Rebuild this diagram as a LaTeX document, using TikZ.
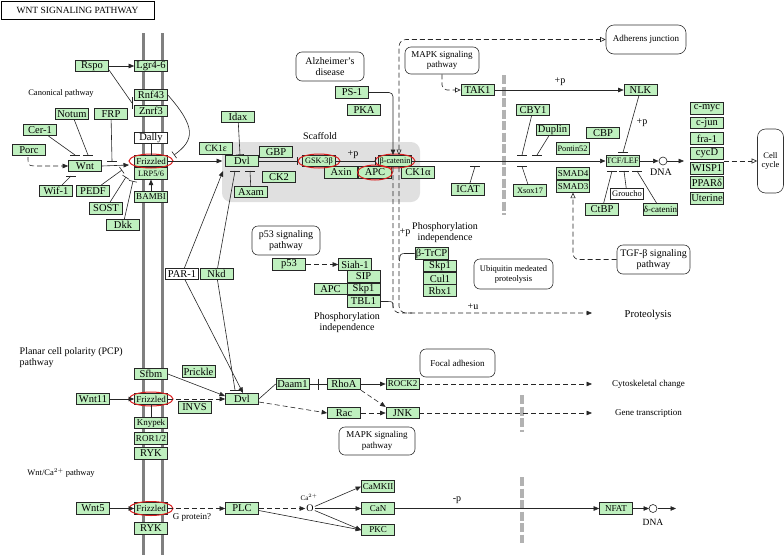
\documentclass[tikz,border=0pt]{standalone}
\usepackage{fontspec}
\setmainfont{Liberation Serif}
\usetikzlibrary{arrows.meta,shapes.geometric,calc}
\definecolor{kg}{RGB}{191,240,191}
\definecolor{kred}{RGB}{220,30,30}
\newcommand\myfs[1]{\fontsize{#1}{#1}\selectfont}
\newcommand\tbh[2]{\draw[ln] (#1-5,#2) -- (#1+5,#2);}
\begin{document}
\begin{tikzpicture}[x=1pt,y=-1pt,
  ln/.style={line width=0.6pt, draw=black!85},
  g/.style={draw=black!85, fill=kg, line width=0.7pt, minimum width=33pt, minimum height=11.5pt, inner sep=0.5pt, font=\myfs{10.5}},
  gs/.style={g, font=\myfs{9}},
  gx/.style={g, font=\myfs{8.3}},
  w/.style={g, fill=white},
  pw/.style={draw=black!80, line width=0.6pt, rounded corners=6pt, align=center, inner sep=1pt},
  lbl/.style={inner sep=0.5pt, font=\myfs{8.5}},
  redc/.style={draw=kred, line width=1pt},
  arr/.style={ln, -{Triangle[length=5.5pt,width=4.5pt]}},
  inh/.style={ln, -{Bar[width=8pt]}},
  oarr/.style={ln, -{Triangle[open,length=5.5pt,width=5pt]}},
  dsh/.style={dash pattern=on 5pt off 3pt},
  gd/.style={line width=4pt, draw=black!30, dash pattern=on 9pt off 2.5pt},
  mem/.style={line width=3pt, draw=black!50}]
\useasboundingbox (0,0) rectangle (784,555);
\fill[white] (0,0) rectangle (784,555);

% title
\node[draw=black, line width=0.8pt, minimum width=153pt, minimum height=18pt, inner sep=0pt, font=\myfs{9.5}] (title) at (77.5,10) {WNT SIGNALING PATHWAY};

% scaffold and membranes
\fill[black!12, rounded corners=9pt] (222,142) rectangle (420,202);
\node[font=\myfs{10}, inner sep=0.5pt] (scaf) at (320,136) {Scaffold};
\draw[mem] (143,33) -- (143,555);
\draw[mem] (162,33) -- (162,555);
\draw[gd] (504,75) -- (504,215);
\draw[gd] (522,395) -- (522,432);
\draw[gd] (522,477) -- (522,543);

% labels
\node[lbl] (canon) at (61,93) {Canonical pathway};
\node[lbl, font=\myfs{10}, anchor=west] (pcp1) at (19,352) {Planar cell polarity (PCP)};
\node[lbl, font=\myfs{10}, anchor=west] (pcp2) at (19,363.5) {pathway};
\node[lbl] (wca) at (61,473) {Wnt/Ca$^{2+}$ pathway};

% canonical nodes
\node[g] (rspo) at (92,66) {Rspo};
\node[g] (lgr) at (151,66) {Lgr4-6};
\node[g] (rnf) at (151,95) {Rnf43};
\node[g] (znrf) at (151,111) {Znrf3};
\node[w] (dally) at (151,138) {Dally};
\node[gs] (fz1) at (151,161) {Frizzled};
\node[gx] (lrp) at (151,173.5) {LRP5/6};
\node[gs] (bambi) at (151,197) {BAMBI};
\node[g] (notum) at (72,114) {Notum};
\node[g] (frp) at (111,114) {FRP};
\node[g] (cer) at (40,130) {Cer-1};
\node[g] (porc) at (29,150) {Porc};
\node[g] (wnt) at (85,166) {Wnt};
\node[g] (wif) at (56,191) {Wif-1};
\node[g] (pedf) at (93,191) {PEDF};
\node[g] (sost) at (106,208.5) {SOST};
\node[g] (dkk) at (123,225) {Dkk};

\node[g] (idax) at (238,117) {Idax};
\node[g, font=\myfs{9.5}] (ck1e) at (216,148.5) {CK1ε};
\node[g] (dvl) at (242,161) {Dvl};
\node[g] (gbp) at (276,152) {GBP};
\node[g] (ck2) at (279,177) {CK2};
\node[g] (axam) at (251,192) {Axam};
\node[gx] (gsk) at (319,161) {GSK-3β};
\node[g] (axin) at (341,172.5) {Axin};
\node[g] (apc) at (375,172.5) {APC};
\node[gx] (bcat) at (395,161) {β-catenin};
\node[g] (ck1a) at (418,172.5) {CK1α};

\node[g] (ps1) at (352,92.5) {PS-1};
\node[g] (pka) at (364,110) {PKA};
\node[pw, minimum width=68pt, minimum height=29pt, font=\fontsize{10}{11}\selectfont] (alz) at (330,66.5) {Alzheimer's\\disease};
\node[pw, minimum width=74pt, minimum height=27pt, font=\fontsize{9}{10.5}\selectfont] (mapk1) at (442,60.5) {MAPK signaling\\pathway};
\node[g] (tak1) at (477.5,90) {TAK1};
\node[g] (nlk) at (640.5,90) {NLK};
\node[pw, minimum width=80pt, minimum height=29pt, rounded corners=8pt, font=\myfs{9}] (adh) at (646,39.5) {Adherens junction};

\node[g] (cby1) at (533,110) {CBY1};
\node[g] (duplin) at (552.5,130) {Duplin};
\node[g] (cbp) at (603,133) {CBP};
\node[gx] (pontin) at (572.5,148.5) {Pontin52};
\node[gx] (tcf) at (622.5,161) {TCF/LEF};
\node[g] (icat) at (468,189.5) {ICAT};
\node[gx] (xsox) at (530,190.5) {Xsox17};
\node[gs] (smad4) at (573,173.5) {SMAD4};
\node[gs] (smad3) at (573,186.5) {SMAD3};
\node[w, font=\myfs{8.5}] (groucho) at (627,194) {Groucho};
\node[g] (ctbp) at (602,209.5) {CtBP};
\node[gs] (dcat) at (660.5,209.5) {δ-catenin};

\node[g] (myc) at (707,108.5) {c-myc};
\node[g] (jun) at (707,123) {c-jun};
\node[g] (fra) at (707,138.5) {fra-1};
\node[g] (cycd) at (707,153.5) {cycD};
\node[g] (wisp) at (707,168.5) {WISP1};
\node[g] (ppar) at (707,182.5) {PPARδ};
\node[g] (uter) at (707,198.5) {Uterine};
\node[pw, minimum width=26pt, minimum height=64pt, rounded corners=8pt, font=\fontsize{8.5}{9.5}\selectfont] (cc) at (770.5,161) {Cell\\cycle};
\node[lbl, font=\myfs{10}] (dna1) at (661,172.5) {DNA};

\node[pw, minimum width=73pt, minimum height=29pt, font=\fontsize{10}{11}\selectfont] (tgf) at (653.5,259.5) {TGF-β signaling\\pathway};
\node[pw, minimum width=79pt, minimum height=30pt, font=\fontsize{8.5}{10}\selectfont] (ubi) at (513.5,274) {Ubiquitin medeated\\proteolysis};
\node[lbl, font=\myfs{10.5}] (prot) at (648,315) {Proteolysis};

% p53 / proteolysis
\node[pw, minimum width=68pt, minimum height=29pt, font=\fontsize{10}{11}\selectfont] (p53pw) at (286,240.5) {p53 signaling\\pathway};
\node[g] (p53) at (289,264.5) {p53};
\node[g] (siah) at (355,264.5) {Siah-1};
\node[g] (sip) at (363.5,276.5) {SIP};
\node[g] (skp1a) at (363.5,289) {Skp1};
\node[g] (tbl1) at (363.5,301.5) {TBL1};
\node[g] (apc2) at (330.5,289) {APC};
\node[lbl, font=\fontsize{10}{11.5}\selectfont, align=center] (phos1) at (347,322.5) {Phosphorylation\\independence};
\node[g] (btrcp) at (431.5,253.5) {β-TrCP};
\node[g] (skp1b) at (440,266) {Skp1};
\node[g] (cul1) at (440,278.5) {Cul1};
\node[g] (rbx1) at (440,290.5) {Rbx1};
\node[lbl, font=\fontsize{10}{11.5}\selectfont, align=center] (phos2) at (445,232.5) {Phosphorylation\\independence};
\node[lbl, font=\myfs{10}] (pp3) at (405,233) {+p};
\node[lbl, font=\myfs{10}] (pu) at (473,307) {+u};

\node[w] (par1) at (182,274) {PAR-1};
\node[g] (nkd) at (216.5,274) {Nkd};

% PCP nodes
\node[g] (sfbm) at (151,374) {Sfbm};
\node[g] (prickle) at (198.5,371.5) {Prickle};
\node[g] (wnt11) at (93,399) {Wnt11};
\node[gs] (fz2) at (151,399) {Frizzled};
\node[g] (invs) at (194.5,407.5) {INVS};
\node[g] (dvl2) at (242,399) {Dvl};
\node[gs] (knypek) at (151,423) {Knypek};
\node[gs] (ror) at (151,438.5) {ROR1/2};
\node[g] (ryk1) at (151,453.5) {RYK};
\node[g] (daam) at (292.5,384) {Daam1};
\node[g] (rhoa) at (344,384) {RhoA};
\node[gs] (rock2) at (402.5,384) {ROCK2};
\node[g] (rac) at (344,413) {Rac};
\node[g] (jnk) at (402.5,413) {JNK};
\node[pw, minimum width=76pt, minimum height=28pt, font=\fontsize{9}{10.5}\selectfont] (mapk2) at (377,441) {MAPK signaling\\pathway};
\node[pw, minimum width=75pt, minimum height=28pt, font=\myfs{9}] (focal) at (457.5,363) {Focal adhesion};
\node[lbl, font=\myfs{9}] (cyto) at (648.5,384) {Cytoskeletal change};
\node[lbl, font=\myfs{9}] (gtr) at (648.5,413) {Gene transcription};

% Ca nodes
\node[g] (wnt5) at (93,508.5) {Wnt5};
\node[gs] (fz3) at (151,508.5) {Frizzled};
\node[g] (ryk2) at (151,528.5) {RYK};
\node[lbl, font=\myfs{9}] (gprot) at (192,517.5) {G protein?};
\node[g] (plc) at (242,508.5) {PLC};
\node[lbl, font=\myfs{7}] (ca2) at (309,497) {Ca$^{2+}$};
\node[inner sep=1pt, font=\myfs{10}] (ca) at (310,508.5) {O};
\node[gs] (camk) at (378,486.5) {CaMKII};
\node[gs] (can) at (378,508.5) {CaN};
\node[gs] (pkc) at (378,530) {PKC};
\node[g, font=\myfs{9}] (nfat) at (616,508.5) {NFAT};
\node[lbl, font=\myfs{10}] (mp) at (457,500) {-p};
\node[lbl, font=\myfs{9.5}] (dna2) at (653,522) {DNA};

% red ellipses
\draw[redc] (fz1) ellipse [x radius=22pt, y radius=7pt];
\draw[redc] (gsk) ellipse [x radius=21pt, y radius=7pt];
\draw[redc] (bcat) ellipse [x radius=20pt, y radius=7pt];
\draw[redc] (apc) ellipse [x radius=17.5pt, y radius=7.5pt];
\draw[redc] (fz2) ellipse [x radius=22pt, y radius=7pt];
\draw[redc] (fz3) ellipse [x radius=22pt, y radius=7pt];

% ---- canonical connectors
\draw[arr] (rspo) -- (lgr);
\draw[ln] (109,70) -- (132,103);
\draw[ln] (132,97) -- (132,109);
\draw[inh] (rnf.east) .. controls (196,127) and (195,140) .. (174,155);
\draw[ln] (dally) -- (fz1);
\draw[arr] (fz1.east) -- ([xshift=-3pt]dvl.west);
\draw[arr,dsh] (28,157) .. controls (28,166) .. (40,166) -- (wnt.west);
\draw[ln] (cer) -- (75,155); \tbh{75}{155}
\draw[ln] (notum) -- (88,155); \tbh{88}{155}
\draw[ln] (frp) -- (112,161); \tbh{112}{161}
\draw[arr] (wnt.east) -- (129,165);
\draw[ln] (wif) -- (71,176); \tbh{71}{176}
\draw[inh] (pedf) -- (122,170);
\draw[inh] (sost) -- (126,177);
\draw[inh] (dkk) -- (133,181);
\draw[arr] (bambi) -- (lrp);
\draw[inh] (idax) -- (240,155);
\draw[inh] (dvl.east) -- (298,161);
\draw[inh] (gsk.east) -- (376,161);
\node[lbl, font=\myfs{10}] (pp1) at (353,155) {+p};
\draw[arr, rounded corners=4pt] (ps1.east) -| (393,155);
\draw[ln, dsh, rounded corners=7pt, {Triangle[open,length=5.5pt,width=5pt]}-{Triangle[open,length=5.5pt,width=5pt]}] (399,155) -- (399,39.5) -- (adh.west);
\draw[arr, dsh, rounded corners=7pt] (393,167) -- (393,313) -- (592,313);
\draw[ln, dsh, rounded corners=7pt] (399,167) -- (399,313) -- (412,313);
\draw[ln] (btrcp.west) -- (407,253.5) .. controls (400,253.5) .. (399.5,261);
\draw[ln] (tbl1.east) -- (387,301.5) .. controls (393,301.5) .. (393,308);
\draw[arr,dsh] (p53) -- (siah);
\draw[arr] (bcat.east) -- (tcf.west);
\draw[oarr, dsh, rounded corners=5pt] (mapk1.south) |- (tak1.west);
\draw[arr] (tak1) -- (nlk);
\node[lbl, font=\myfs{10}] (pp2) at (560,82) {+p};
\draw[ln] (cby1) -- (522,155); \tbh{522}{155}
\draw[ln] (duplin) -- (537,155); \tbh{537}{155}
\draw[ln] (icat) -- (475,166.5); \tbh{475}{166.5}
\draw[ln] (xsox) -- (522,166.5); \tbh{522}{166.5}
\draw[ln] (nlk) -- (623,152.5); \tbh{623}{152.5}
\node[lbl, font=\myfs{10}] (pp4) at (642,123) {+p};
\draw[arr] (tcf.east) -- (658.5,161);
\draw[ln] (663,161) circle [radius=4pt];
\draw[arr] (667,161) -- (684,161);
\draw[ln] (ctbp) -- (612,171); \tbh{612}{171}
\draw[ln] (groucho) -- (624,171); \tbh{624}{171}
\draw[ln] (dcat) -- (637,171); \tbh{637}{171}
\draw[oarr, dsh, rounded corners=6pt] (tgf.west) -| (smad3.south);
\draw[oarr, dsh] (723.5,161) -- (cc.west);
\draw[arr] (par1) -- (223,171);
\draw[ln] (nkd) -- (235,171); \tbh{235}{171}
\draw[ln] (axam) -- (250,171); \tbh{250}{171}

% ---- PCP connectors
\draw[arr] (par1) -- (243,393);
\draw[ln] (nkd) -- (235,390); \tbh{235}{390}
\draw[arr] (sfbm.east) -- (225,396);
\draw[arr] (wnt11) -- (fz2);
\draw[arr,dsh] (fz2.east) -- (dvl2.west);
\draw[ln] (fz2) -- (knypek);
\draw[ln] (dvl2.east) -- (daam.west);
\draw[arr,dsh] ([yshift=-3pt]dvl2.east) -- (rac.west);
\draw[ln] (daam) -- (rhoa);
\draw[ln] (318,378.5) -- (318,389.5);
\draw[arr] (rhoa) -- (rock2);
\draw[arr,dsh] (rhoa.south east) -- (jnk.north west);
\draw[arr,dsh] (rac) -- (jnk);
\draw[arr,dsh] (rock2.east) -- (592,384);
\draw[arr,dsh] (jnk.east) -- (592,413);

% ---- Ca connectors
\draw[arr] (wnt5) -- (fz3);
\draw[arr,dsh] (fz3.east) -- (plc.west);
\draw[arr,dsh] (plc.east) -- (ca.west);
\draw[arr] ([yshift=-2pt]plc.east) -- (pkc.west);
\draw[arr] (ca) -- (camk.west);
\draw[arr] (ca) -- (can.west);
\draw[arr] (ca) -- (pkc.west);
\draw[arr] (can) -- (nfat);
\draw[arr] (nfat.east) -- (649,508.5);
\draw[ln] (653,508.5) circle [radius=4pt];
\draw[arr] (658,508.5) -- (676,508.5);
\end{tikzpicture}
\end{document}
